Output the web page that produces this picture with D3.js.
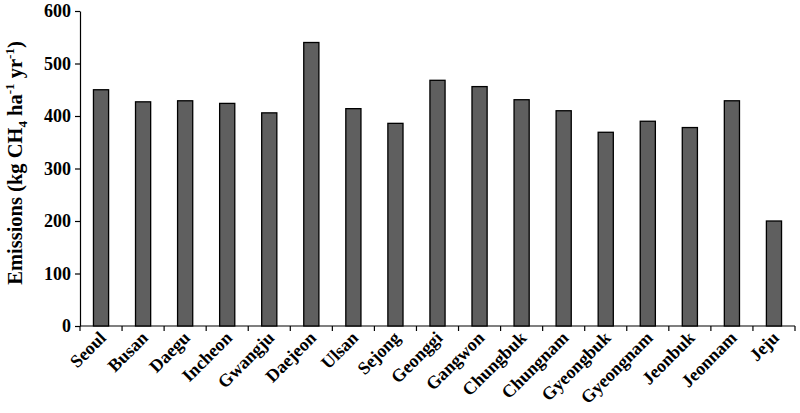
<!DOCTYPE html>
<html>
<head>
<meta charset="utf-8">
<script src="https://cdn.jsdelivr.net/npm/d3@7"></script>
<style>
  body { margin: 0; background: #fff; }
  svg text { font-family: "Liberation Serif", "Times New Roman", serif; font-weight: bold; fill: #000; }
  .axis path, .axis line { stroke: #000; stroke-width: 1.2; }
</style>
</head>
<body>
<svg id="chart" width="800" height="413"></svg>
<script>
var regions = ['Seoul','Busan','Daegu','Incheon','Gwangju','Daejeon','Ulsan','Sejong','Geonggi','Gangwon',
  'Chungbuk','Chungnam','Gyeongbuk','Gyeongnam','Jeonbuk','Jeonnam','Jeju']
var emissions = [450, 427, 429, 424, 406, 540, 414, 386, 468, 456, 431, 410, 369, 390, 378, 429, 200]
var yTicks = [0, 100, 200, 300, 400, 500, 600]

var svg = d3.select('#chart')
var plotLeft = 80, plotRight = 795, plotTop = 11, plotBottom = 326

var x = d3.scaleBand()
    .domain(regions)
    .range([plotLeft, plotRight])
    .paddingInner(0.64)
    .paddingOuter(0.32)

var y = d3.scaleLinear()
    .domain([0, 600])
    .range([plotBottom, plotTop])

// y axis
var gy = svg.append('g')
    .attr('class', 'axis')
    .attr('transform', `translate(${plotLeft},0)`)
    .call(d3.axisLeft(y).tickValues(yTicks).tickSize(5).tickSizeOuter(0).tickPadding(4))
gy.selectAll('text').style('font-size', '18px')

// x axis, ticks sit between the categories
var gx = svg.append('g')
    .attr('class', 'axis')
    .attr('transform', `translate(0,${plotBottom})`)
gx.append('line')
    .attr('x1', plotLeft).attr('x2', plotRight)
    .attr('y1', 0).attr('y2', 0)
gx.selectAll('.tk')
    .data(d3.range(regions.length + 1))
    .join('line')
    .attr('class', 'tk')
    .attr('x1', d => plotLeft + d * (plotRight - plotLeft) / regions.length)
    .attr('x2', d => plotLeft + d * (plotRight - plotLeft) / regions.length)
    .attr('y1', 0).attr('y2', 5)

gx.selectAll('.lbl')
    .data(regions)
    .join('text')
    .attr('class', 'lbl')
    .attr('text-anchor', 'end')
    .style('font-size', '18px')
    .attr('transform', d => `translate(${x(d) + x.bandwidth() / 2 + 6},${13}) rotate(-45)`)
    .text(d => d)

// bars
svg.selectAll('.bar')
    .data(emissions)
    .join('rect')
    .attr('class', 'bar')
    .attr('x', (d, i) => x(regions[i]))
    .attr('width', x.bandwidth())
    .attr('y', d => y(d))
    .attr('height', d => y(0) - y(d))
    .attr('fill', '#5f5f5f')
    .attr('stroke', '#000')
    .attr('stroke-width', 1.3)

// y title
var title = svg.append('text')
    .attr('text-anchor', 'middle')
    .attr('transform', `translate(22,163) rotate(-90)`)
    .style('font-size', '20.5px')
title.append('tspan').text('Emissions (kg CH')
title.append('tspan').text('4').style('font-size', '13px').attr('dy', 5)
title.append('tspan').text(' ha').attr('dy', -5)
title.append('tspan').text('-1').style('font-size', '13px').attr('dy', -8)
title.append('tspan').text(' yr').attr('dy', 8)
title.append('tspan').text('-1').style('font-size', '13px').attr('dy', -8)
title.append('tspan').text(')').attr('dy', 8)
</script>
</body>
</html>
